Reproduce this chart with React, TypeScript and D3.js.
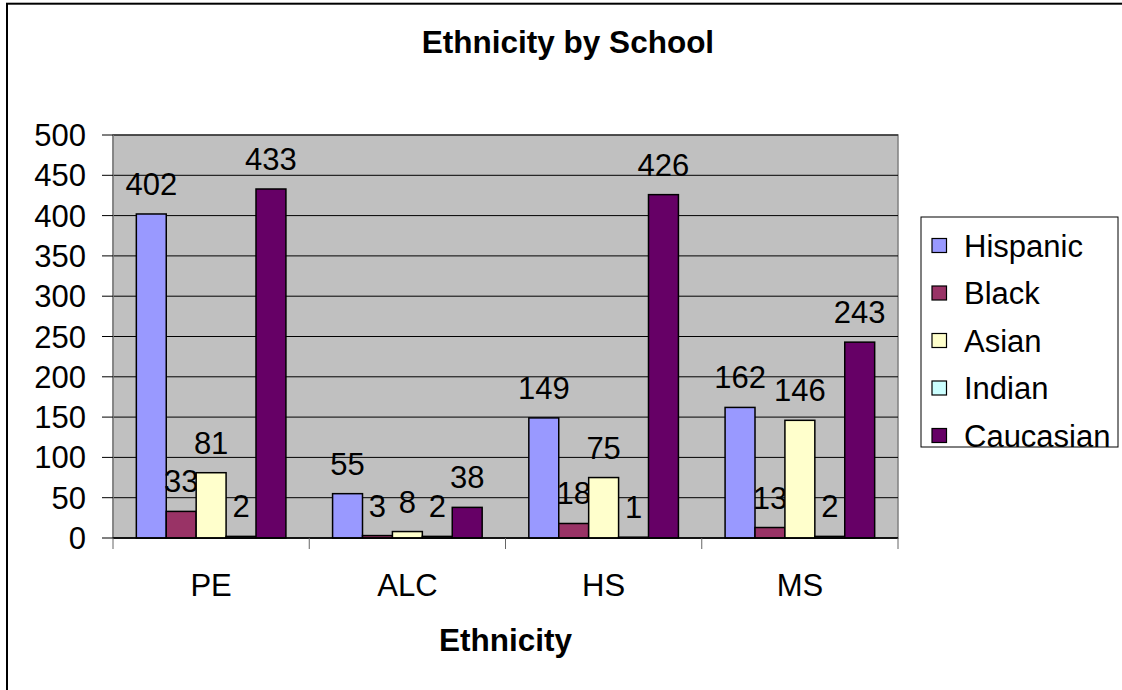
import React from "react";
import * as d3 from "d3";

const categories = ["PE", "ALC", "HS", "MS"];
const seriesNames = ["Hispanic", "Black", "Asian", "Indian", "Caucasian"];
const hispanic = [402, 55, 149, 162];
const black = [33, 3, 18, 13];
const asian = [81, 8, 75, 146];
const indian = [2, 2, 1, 2];
const caucasian = [433, 38, 426, 243];
const seriesValues = [hispanic, black, asian, indian, caucasian];
const seriesColors = ["#9999FF", "#993366", "#FFFFCC", "#CCFFFF", "#660066"];
const yTicks = [0, 50, 100, 150, 200, 250, 300, 350, 400, 450, 500];

const FONT = "'Liberation Sans', Arial, Helvetica, sans-serif";
const FS = 31;

export default function App() {
  const left = 113, right = 898, top = 135, bottom = 538;
  const y = d3.scaleLinear().domain([0, 500]).range([bottom, top]);
  const x0 = d3.scaleBand<string>().domain(categories).range([left, right]).padding(0);
  const x1 = d3
    .scaleBand<string>()
    .domain(seriesNames)
    .range([0, x0.bandwidth()])
    .paddingInner(0)
    .paddingOuter(0.78);

  const legendX = 921, legendY = 217, legendW = 197, legendH = 230;
  const legendRow0 = 245.5, legendStep = 47.5;

  return (
    <svg
      width={1122}
      height={690}
      style={{ position: "absolute", left: 0, top: 0, background: "#fff" }}
      fontFamily={FONT}
    >
      <rect x={0} y={0} width={1122} height={690} fill="#fff" />
      <rect x={7} y={3.7} width={1300} height={900} fill="none" stroke="#000" strokeWidth={2} />

      <text x={568} y={53} textAnchor="middle" fontSize={31.5} fontWeight="bold">
        Ethnicity by School
      </text>

      {/* plot area */}
      <rect x={left} y={top} width={right - left} height={bottom - top} fill="#C0C0C0" stroke="#808080" strokeWidth={1.5} />
      {yTicks.map((t) => (
        <line key={"g" + t} x1={left} x2={right} y1={y(t)} y2={y(t)} stroke="#000" strokeWidth={1} />
      ))}

      {/* y axis */}
      <line x1={left} x2={left} y1={top} y2={bottom} stroke="#808080" strokeWidth={1.5} />
      {yTicks.map((t) => (
        <g key={"t" + t}>
          <line x1={102} x2={left} y1={y(t)} y2={y(t)} stroke="#000" strokeWidth={1} />
          <text x={86} y={y(t) + 11} textAnchor="end" fontSize={FS}>
            {t}
          </text>
        </g>
      ))}

      {/* bars */}
      {categories.map((c, ci) => (
        <g key={c} transform={`translate(${x0(c)},0)`}>
          {seriesNames.map((s, si) => {
            const v = seriesValues[si][ci];
            const bx = x1(s) as number;
            return (
              <g key={s}>
                <rect
                  x={bx}
                  y={y(v)}
                  width={x1.bandwidth()}
                  height={bottom - y(v)}
                  fill={seriesColors[si]}
                  stroke="#000"
                  strokeWidth={1.5}
                />
                <text x={bx + x1.bandwidth() / 2} y={y(v) - 19} textAnchor="middle" fontSize={FS}>
                  {v}
                </text>
              </g>
            );
          })}
        </g>
      ))}

      {/* x axis */}
      <line x1={left} x2={right} y1={bottom} y2={bottom} stroke="#000" strokeWidth={1.5} />
      {d3.range(categories.length + 1).map((i) => {
        const xx = left + i * x0.step();
        return <line key={"xt" + i} x1={xx} x2={xx} y1={bottom} y2={549} stroke="#666" strokeWidth={1} />;
      })}
      {categories.map((c) => (
        <text key={"xl" + c} x={(x0(c) as number) + x0.bandwidth() / 2} y={596} textAnchor="middle" fontSize={FS}>
          {c}
        </text>
      ))}
      <text x={(left + right) / 2} y={651} textAnchor="middle" fontSize={31.5} fontWeight="bold">
        Ethnicity
      </text>

      {/* legend */}
      <rect x={legendX} y={legendY} width={legendW} height={legendH} fill="#fff" stroke="#000" strokeWidth={1} />
      {seriesNames.map((s, i) => {
        const cy = legendRow0 + i * legendStep;
        return (
          <g key={"lg" + s}>
            <rect x={932} y={cy - 7} width={14.5} height={14} fill={seriesColors[i]} stroke="#000" strokeWidth={1.2} />
            <text x={964} y={cy + 11} fontSize={FS}>
              {s}
            </text>
          </g>
        );
      })}
    </svg>
  );
}
